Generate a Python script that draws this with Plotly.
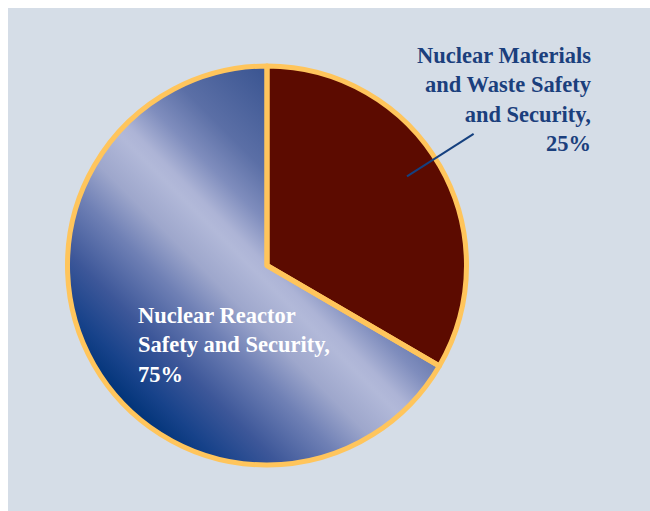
import base64, math
import plotly.graph_objects as go

# ---- data ----
categories = ["Nuclear Materials and Waste Safety and Security", "Nuclear Reactor Safety and Security"]
slice_shares = [33.4, 66.6]          # angular share as drawn in the picture
pct_labels = ["25%", "75%"]           # printed percentages
label_lines = [
    ["Nuclear Materials", "and Waste Safety", "and Security,"],
    ["Nuclear Reactor", "Safety and Security,"],
]

# ---- layout constants ----
W, H = 650, 511
CX, CY, R = 267, 265.5, 199.5
RED = "#5c0b00"
BORDER = "#ffc55c"
BG = "#d5dde7"
NAVY_TXT = "#1b3f7d"
FONT = "Liberation Serif"
FS = 22.5

# gradient stops along the bottom-left -> top-right diagonal
grad_stops = [
    (0.00, "#003377"), (0.07, "#17428a"), (0.17, "#3d5799"), (0.29, "#6f80b5"),
    (0.38, "#9ea7cc"), (0.47, "#b2b9d9"), (0.50, "#adb4d6"), (0.575, "#7f8dbd"),
    (0.665, "#5b6fa6"), (0.83, "#3d5793"), (1.00, "#2f4c8c"),
]
D = 2 * R
k = R / math.sqrt(2)
stops = "".join(f'<stop offset="{o}" stop-color="{c}"/>' for o, c in grad_stops)
svg = (
    f'<svg xmlns="http://www.w3.org/2000/svg" width="{D}" height="{D}" viewBox="0 0 {D} {D}">'
    f'<defs><linearGradient id="g" gradientUnits="userSpaceOnUse" '
    f'x1="{R - k}" y1="{R + k}" x2="{R + k}" y2="{R - k}">{stops}</linearGradient></defs>'
    f'<circle cx="{R}" cy="{R}" r="{R}" fill="url(#g)"/></svg>'
)
src = "data:image/svg+xml;base64," + base64.b64encode(svg.encode()).decode()

fig = go.Figure(go.Pie(
    labels=categories,
    values=slice_shares,
    sort=False,
    direction="clockwise",
    rotation=0,
    textinfo="none",
    hoverinfo="skip",
    showlegend=False,
    marker=dict(colors=[RED, "rgba(0,0,0,0)"], line=dict(color=BORDER, width=5)),
    domain=dict(x=[(CX - R) / W, (CX + R) / W], y=[1 - (CY + R) / H, 1 - (CY - R) / H]),
))

# leader line for the outside label
ang = math.radians(57.5)
r1, r2 = 166, 245
x1p, y1p = CX + r1 * math.sin(ang), CY - r1 * math.cos(ang)
x2p, y2p = CX + r2 * math.sin(ang), CY - r2 * math.cos(ang)

shapes = [
    dict(type="rect", xref="paper", yref="paper", x0=0, x1=8 / W, y0=0, y1=1,
         fillcolor="white", line_width=0, layer="below"),
    dict(type="rect", xref="paper", yref="paper", x0=0, x1=1, y0=1 - 8 / H, y1=1,
         fillcolor="white", line_width=0, layer="below"),
    dict(type="line", xref="paper", yref="paper", x0=x1p / W, y0=1 - y1p / H,
         x1=x2p / W, y1=1 - y2p / H, line=dict(color="#15407f", width=2)),
]

annotations = [
    dict(text="<br>".join(label_lines[0] + [pct_labels[0]]), xref="paper", yref="paper",
         x=594 / W, y=1 - 99 / H, xanchor="right", yanchor="middle", align="right",
         showarrow=False, font=dict(family=FONT, size=FS, color=NAVY_TXT, weight="bold")),
    dict(text="<br>".join(label_lines[1] + [pct_labels[1]]), xref="paper", yref="paper",
         x=136 / W, y=1 - 345 / H, xanchor="left", yanchor="middle", align="left",
         showarrow=False, font=dict(family=FONT, size=FS, color="white", weight="bold")),
]

fig.update_layout(
    width=W, height=H,
    margin=dict(l=0, r=0, t=0, b=0),
    paper_bgcolor=BG,
    images=[dict(source=src, xref="paper", yref="paper", x=(CX - R) / W, y=1 - (CY - R) / H,
                 sizex=D / W, sizey=D / H, xanchor="left", yanchor="top",
                 sizing="stretch", layer="below")],
    shapes=shapes,
    annotations=annotations,
)

fig.write_html("out.html")
